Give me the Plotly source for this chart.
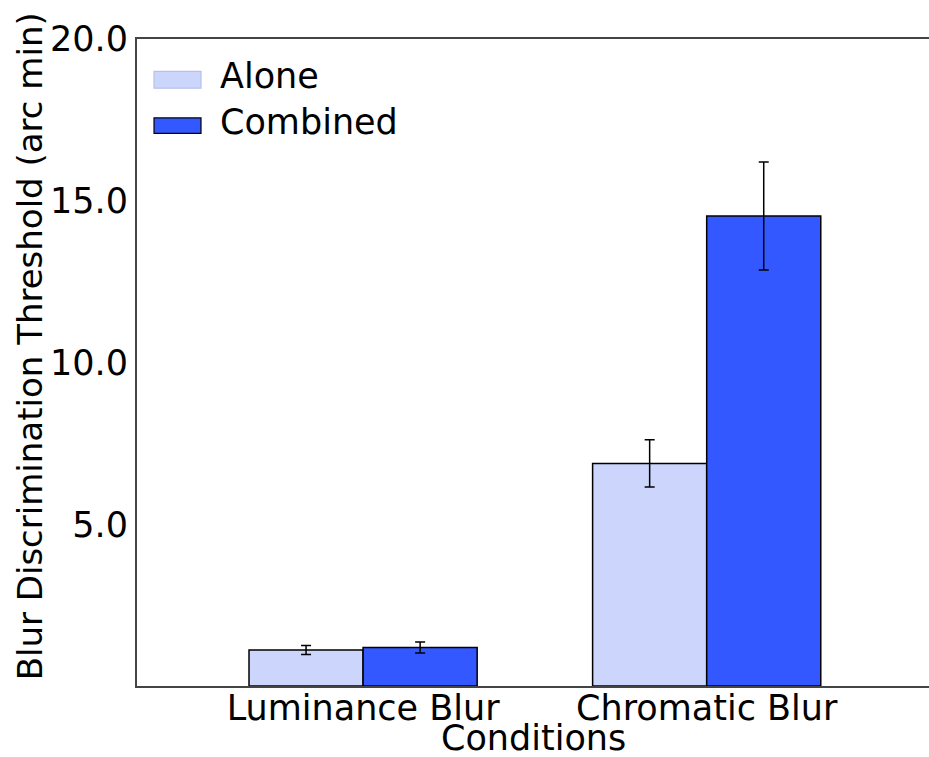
import plotly.graph_objects as go

categories = ["Luminance Blur", "Chromatic Blur"]
alone_vals = [1.11, 6.88]
alone_err = [0.14, 0.73]
combined_vals = [1.19, 14.53]
combined_err = [0.17, 1.67]
series_names = ["Alone", "Combined"]
y_ticks = [5.0, 10.0, 15.0, 20.0]
y_tick_text = ["5.0", "10.0", "15.0", "20.0"]

light = "#ccd6fd"
dark = "#3458ff"
FONT = "DejaVu Sans"
FS = 35

fig = go.Figure()
fig.add_trace(go.Bar(
    x=categories, y=alone_vals, name=series_names[0],
    marker=dict(color=light, line=dict(color="black", width=1.5)),
    error_y=dict(type="data", array=alone_err, color="black", thickness=1.5, width=5),
    showlegend=False,
))
fig.add_trace(go.Bar(
    x=categories, y=combined_vals, name=series_names[1],
    marker=dict(color=dark, line=dict(color="black", width=1.5)),
    error_y=dict(type="data", array=combined_err, color="black", thickness=1.5, width=5),
    showlegend=False,
))

# manual legend with wide matplotlib-like patches
legend_items = [(series_names[0], light, 0.950, 0.924), (series_names[1], dark, 0.878, 0.854)]
for name, col, y1, y0 in legend_items:
    fig.add_shape(type="rect", xref="paper", yref="paper", x0=0.0215, x1=0.0808, y0=y0, y1=y1,
                  fillcolor=col, line=dict(color="black" if col == dark else "#b8c0e8", width=1.2))
    fig.add_annotation(xref="paper", yref="paper", x=0.102, y=(y0 + y1) / 2 + 0.006, text=name,
                       showarrow=False, xanchor="left", yanchor="middle",
                       font=dict(family=FONT, size=FS, color="black"))

# axis titles
fig.add_annotation(xref="paper", yref="paper", x=0.501, y=0, yshift=-52, text="Conditions",
                   showarrow=False, xanchor="center", yanchor="middle",
                   font=dict(family=FONT, size=FS, color="black"))
fig.add_annotation(xref="paper", yref="paper", x=0, xshift=-107, y=0.525,
                   text="Blur Discrimination Threshold (arc min)", textangle=-90,
                   showarrow=False, xanchor="center", yanchor="middle",
                   font=dict(family=FONT, size=34, color="black"))

fig.update_layout(
    width=929, height=757,
    margin=dict(l=137, r=0, t=39, b=71, autoexpand=False),
    paper_bgcolor="white", plot_bgcolor="white",
    barmode="group", bargap=0.336, bargroupgap=0.0,
    font=dict(family=FONT, size=FS, color="black"),
    xaxis=dict(range=[-0.658, 1.647], showline=True, linecolor="#444", linewidth=2, mirror=True,
               ticks="", showgrid=False, zeroline=False, automargin=False,
               ticklabelstandoff=-10,
               tickfont=dict(family=FONT, size=FS)),
    yaxis=dict(range=[0, 20], showline=True, linecolor="#444", linewidth=2, mirror=False,
               tickvals=y_ticks, ticktext=y_tick_text, ticks="", showgrid=False, zeroline=False,
               automargin=False, tickfont=dict(family=FONT, size=FS)),
)

fig.write_html("out.html", config={"displayModeBar": False},
               post_script="document.body.style.margin='0';document.body.style.overflow='hidden';")
